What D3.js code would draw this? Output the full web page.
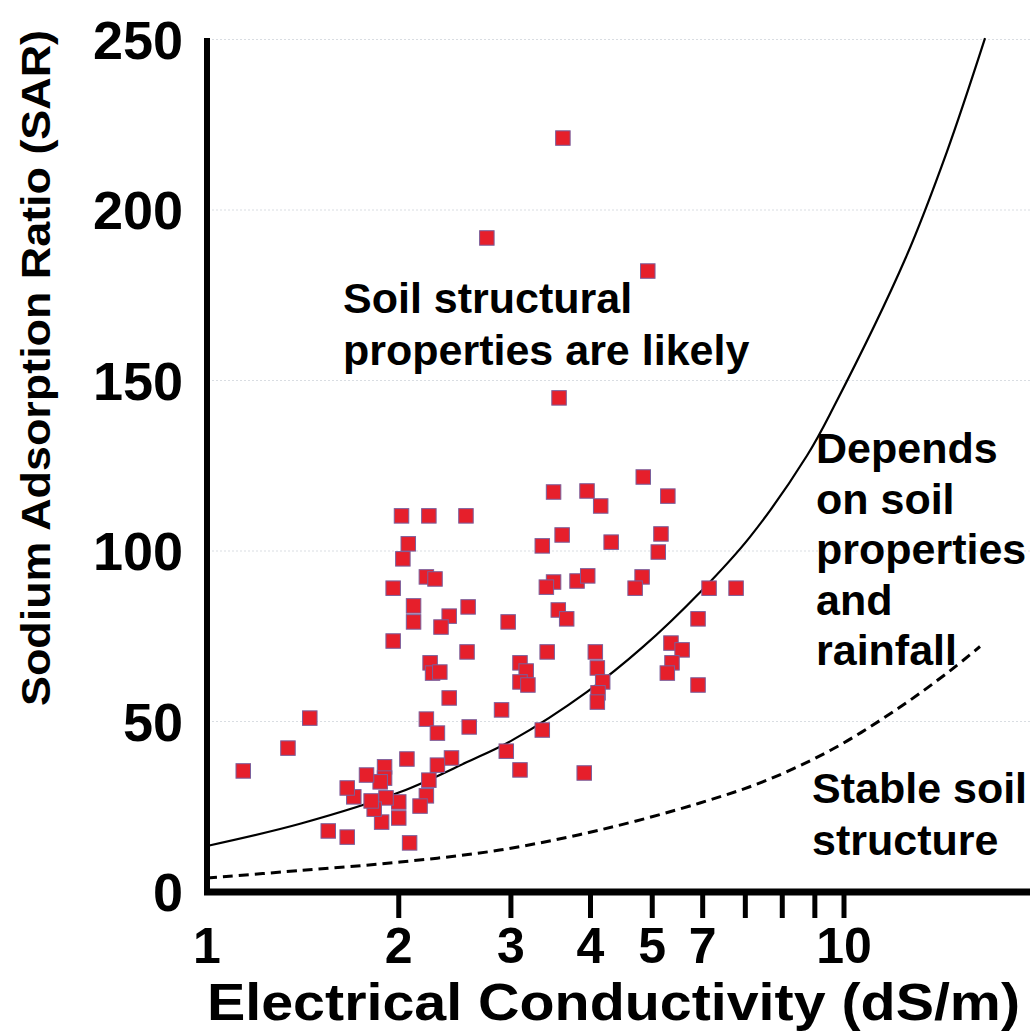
<!DOCTYPE html>
<html>
<head>
<meta charset="utf-8">
<script src="https://cdn.jsdelivr.net/npm/d3@7"></script>
<style>
  html, body { margin: 0; padding: 0; background: #fff; }
  svg { display: block; }
  text { font-family: "Liberation Sans", Arial, sans-serif; font-weight: bold; fill: #000; }
</style>
</head>
<body>
<script>
// measured samples: electrical conductivity (dS/m) and SAR
const ecValues = [3.62, 2.75, 4.92, 3.57, 4.84, 3.50, 3.95, 4.15, 5.29, 2.02, 2.23, 2.55, 3.61, 3.36, 4.31, 5.16,
  5.11, 2.07, 2.03, 2.21, 2.28, 1.96, 3.50, 3.41, 3.81, 3.96, 4.82, 4.70, 6.14, 6.77, 2.11, 2.57, 2.40, 2.33,
  2.11, 2.97, 3.56, 3.67, 5.90, 1.96, 2.24, 2.26, 2.32, 2.56, 3.10, 3.17, 3.10, 3.19, 3.42, 4.07, 4.10, 4.18,
  4.11, 4.10, 5.35, 5.57, 5.37, 5.28, 5.90, 2.40, 2.90, 2.21, 2.30, 2.58, 3.36, 2.95, 3.10, 3.91, 2.42, 2.30,
  2.23, 2.21, 2.16, 2.06, 2.08, 2.00, 2.00, 1.91, 1.88, 1.90, 1.90, 1.87, 1.83, 1.81, 1.78, 1.70, 1.66, 1.66,
  1.55, 1.45, 1.34, 1.14];
const sarValues = [221.1, 191.8, 182.1, 144.9, 121.7, 117.3, 117.6, 113.2, 116.1, 110.3, 110.3, 110.3, 104.7, 101.5,
  102.6, 105.0, 99.7, 102.1, 97.7, 92.4, 91.8, 89.1, 90.9, 89.4, 91.2, 92.7, 92.4, 89.1, 89.1, 89.1, 83.9, 83.6,
  80.9, 77.7, 79.2, 79.2, 82.7, 80.1, 80.1, 73.6, 67.2, 64.2, 64.5, 70.4, 67.2, 64.8, 61.6, 60.7, 70.4, 70.4,
  65.7, 61.6, 58.4, 55.7, 73.0, 71.0, 67.2, 64.2, 60.7, 56.9, 53.4, 50.7, 46.6, 48.4, 47.5, 41.3, 35.8, 34.9,
  39.3, 37.2, 32.8, 28.2, 25.2, 39.0, 14.4, 26.4, 21.7, 27.6, 20.5, 36.7, 33.4, 32.3, 24.3, 26.7, 34.3, 27.9,
  30.5, 16.1, 17.9, 51.0, 42.2, 35.5];

// threshold curves
const upperEC = [1, 1.4, 2.01, 2.56, 3.02, 3.95, 4.83, 5.95, 7.11, 8.75, 9.62, 12.5, 14.5, 16.65];
const upperSAR = [13.5, 20.0, 29.3, 38.1, 44.6, 58.7, 71.8, 88, 104, 128, 142, 186, 217, 250.4];
const lowerEC = [1, 1.4, 2.01, 2.88, 4.14, 5.94, 7.57, 9.62, 12.2, 14.7, 16.35];
const lowerSAR = [4.1, 6.3, 8.8, 12.3, 18.2, 26.1, 32.8, 42, 54, 65, 72];

const yTicks = [0, 50, 100, 150, 200, 250];
const xTickMarks = [2, 3, 4, 5, 6, 7, 8, 9, 10];
const xLabelValues = [1, 2, 3, 4, 5, 6, 10];
const xLabelText = ['1', '2', '3', '4', '5', '7', '10'];

const notes = [
  { x: 343, y: 313, lines: ['Soil structural', 'properties are likely'] },
  { x: 816, y: 463, lines: ['Depends', 'on soil', 'properties', 'and', 'rainfall'] },
  { x: 812, y: 803, lines: ['Stable soil', 'structure'] }
];

const width = 1030, height = 1031;
const x = d3.scaleLog().domain([1, 10]).range([207, 844]);
const y = d3.scaleLinear().domain([0, 250]).range([892, 39.5]);

const svg = d3.select('body').append('svg')
  .attr('width', width)
  .attr('height', height);

// faint dotted grid
svg.append('g')
  .selectAll('line')
  .data(yTicks.slice(1))
  .enter()
  .append('line')
  .attr('x1', 212).attr('x2', width)
  .attr('y1', d => y(d)).attr('y2', d => y(d))
  .attr('stroke', '#d9dde2')
  .attr('stroke-width', 1)
  .attr('stroke-dasharray', '2,2');

const line = d3.line()
  .x(d => x(d[0]))
  .y(d => y(d[1]))
  .curve(d3.curveCatmullRom.alpha(0.5));

svg.append('path')
  .attr('d', line(d3.zip(upperEC, upperSAR)))
  .attr('fill', 'none')
  .attr('stroke', '#000')
  .attr('stroke-width', 2.2);

svg.append('path')
  .attr('d', line(d3.zip(lowerEC, lowerSAR)))
  .attr('fill', 'none')
  .attr('stroke', '#000')
  .attr('stroke-width', 3)
  .attr('stroke-dasharray', '10,6');

// sample markers
const size = 14.5;
svg.append('g')
  .selectAll('rect')
  .data(d3.zip(ecValues, sarValues))
  .enter()
  .append('rect')
  .attr('x', d => x(d[0]) - size / 2)
  .attr('y', d => y(d[1]) - size / 2)
  .attr('width', size)
  .attr('height', size)
  .attr('fill', '#e61f2b')
  .attr('stroke', '#7a5f9c')
  .attr('stroke-width', 1);

// axes lines
svg.append('line')
  .attr('x1', 207).attr('x2', 207)
  .attr('y1', 38).attr('y2', 895)
  .attr('stroke', '#000').attr('stroke-width', 6);

svg.append('line')
  .attr('x1', 204).attr('x2', width)
  .attr('y1', 892).attr('y2', 892)
  .attr('stroke', '#000').attr('stroke-width', 7);

svg.append('g')
  .selectAll('line')
  .data(xTickMarks)
  .enter()
  .append('line')
  .attr('x1', d => x(d)).attr('x2', d => x(d))
  .attr('y1', 895).attr('y2', 918)
  .attr('stroke', '#000').attr('stroke-width', 5);

// tick labels
svg.append('g')
  .selectAll('text')
  .data(yTicks)
  .enter()
  .append('text')
  .attr('x', 183)
  .attr('y', d => y(d))
  .attr('dy', '0.36em')
  .attr('text-anchor', 'end')
  .style('font-size', '54px')
  .text(d => d);

svg.append('g')
  .selectAll('text')
  .data(xLabelValues)
  .enter()
  .append('text')
  .attr('x', d => x(d))
  .attr('y', 963)
  .attr('text-anchor', 'middle')
  .style('font-size', '50px')
  .text((d, i) => xLabelText[i]);

// axis titles
svg.append('text')
  .attr('x', 207)
  .attr('y', 1020)
  .attr('textLength', 813)
  .attr('lengthAdjust', 'spacingAndGlyphs')
  .style('font-size', '52px')
  .text('Electrical Conductivity (dS/m)');

svg.append('text')
  .attr('transform', 'translate(50,368) rotate(-90)')
  .attr('text-anchor', 'middle')
  .attr('textLength', 676)
  .attr('lengthAdjust', 'spacingAndGlyphs')
  .style('font-size', '40px')
  .text('Sodium Adsorption Ratio (SAR)');

// region notes
notes.forEach(n => {
  const t = svg.append('text')
    .attr('x', n.x)
    .attr('y', n.y)
    .style('font-size', '43px');
  n.lines.forEach((s, i) => {
    t.append('tspan')
      .attr('x', n.x)
      .attr('dy', i === 0 ? 0 : (n.lines.length > 2 ? 50.5 : 52))
      .text(s);
  });
});
</script>
</body>
</html>
